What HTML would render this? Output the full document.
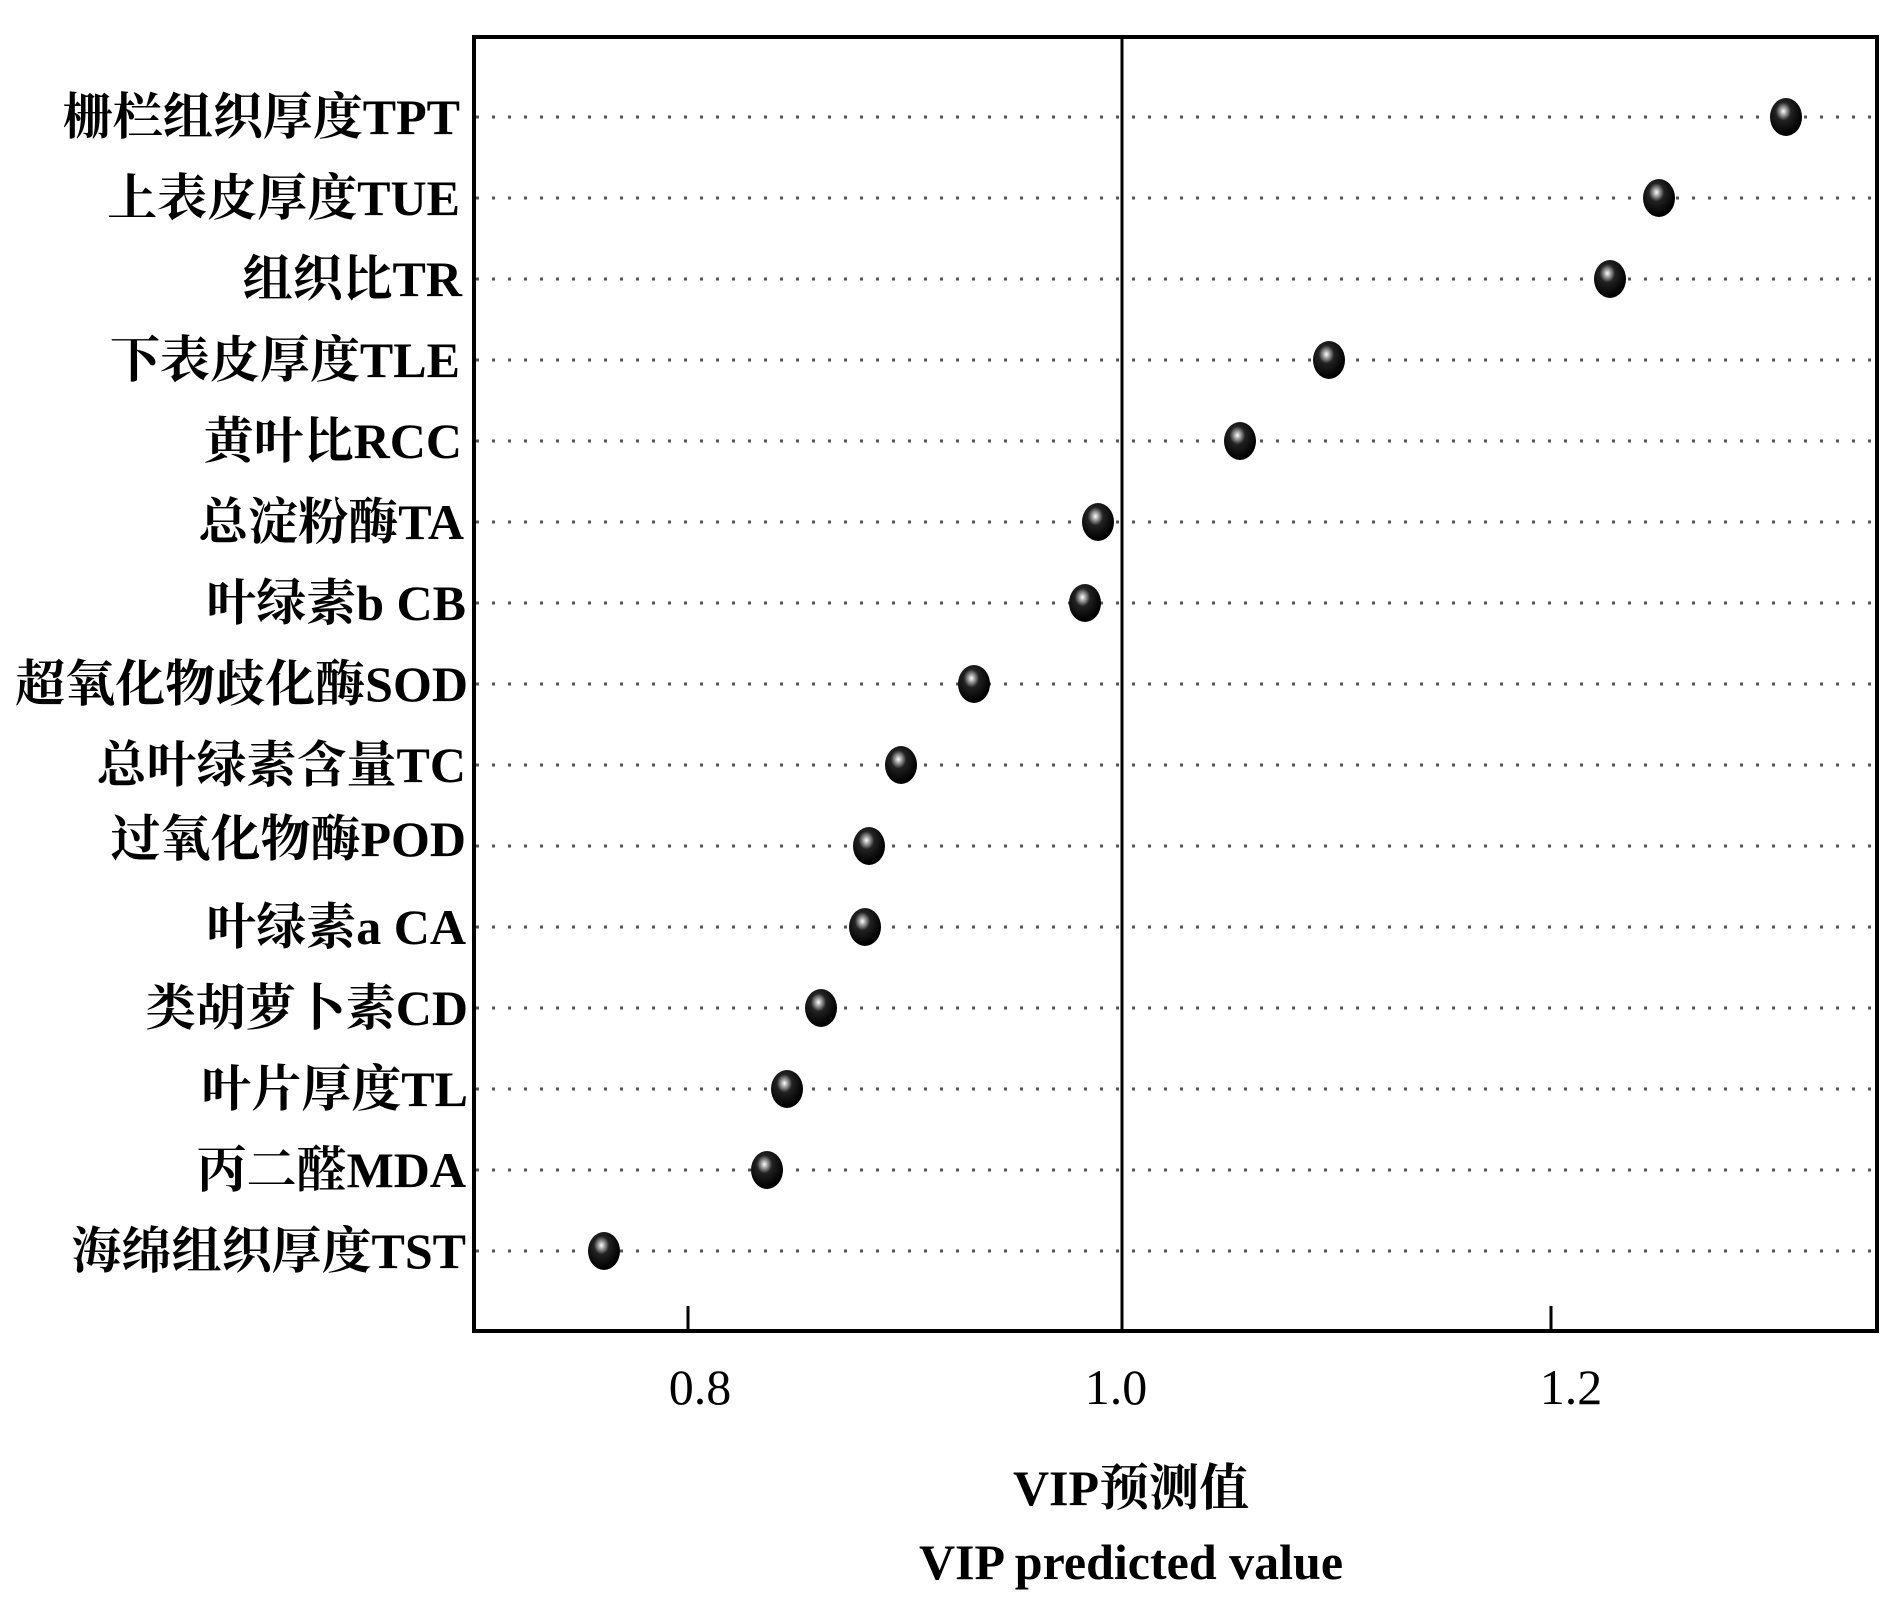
<!DOCTYPE html>
<html><head><meta charset="utf-8"><style>
html,body{margin:0;padding:0;background:#fff;}
svg text{font-family:"Liberation Serif","Noto Serif CJK SC",serif;}
</style></head><body>
<svg width="1890" height="1612" viewBox="0 0 1890 1612" xmlns="http://www.w3.org/2000/svg">
<defs>
<radialGradient id="g" cx="0.42" cy="0.35" r="0.6">
<stop offset="0" stop-color="#fff"/><stop offset="0.15" stop-color="#aaa"/><stop offset="0.4" stop-color="#222"/><stop offset="1" stop-color="#000"/>
</radialGradient>
</defs>
<g stroke="#555" stroke-width="3" stroke-dasharray="3 13">
<line x1="476" x2="1876" y1="117" y2="117"/>
<line x1="476" x2="1876" y1="198" y2="198"/>
<line x1="476" x2="1876" y1="279" y2="279"/>
<line x1="476" x2="1876" y1="360" y2="360"/>
<line x1="476" x2="1876" y1="441" y2="441"/>
<line x1="476" x2="1876" y1="522" y2="522"/>
<line x1="476" x2="1876" y1="603" y2="603"/>
<line x1="476" x2="1876" y1="684" y2="684"/>
<line x1="476" x2="1876" y1="765" y2="765"/>
<line x1="476" x2="1876" y1="846" y2="846"/>
<line x1="476" x2="1876" y1="927" y2="927"/>
<line x1="476" x2="1876" y1="1008" y2="1008"/>
<line x1="476" x2="1876" y1="1089" y2="1089"/>
<line x1="476" x2="1876" y1="1170" y2="1170"/>
<line x1="476" x2="1876" y1="1251" y2="1251"/>
</g>
<line x1="1122" x2="1122" y1="36" y2="1332" stroke="#000" stroke-width="3"/>
<rect x="474" y="37" width="1403" height="1294" fill="none" stroke="#000" stroke-width="4"/>
<g stroke="#000" stroke-width="3">
<line x1="688" x2="688" y1="1306" y2="1331"/>
<line x1="1551" x2="1551" y1="1306" y2="1331"/>
</g>
<g fill="url(#g)">
<ellipse cx="1786" cy="117" rx="16" ry="19"/>
<ellipse cx="1659" cy="198" rx="16" ry="19"/>
<ellipse cx="1610" cy="279" rx="16" ry="19"/>
<ellipse cx="1329" cy="360" rx="16" ry="19"/>
<ellipse cx="1240" cy="441" rx="16" ry="19"/>
<ellipse cx="1098" cy="522" rx="16" ry="19"/>
<ellipse cx="1085" cy="603" rx="16" ry="19"/>
<ellipse cx="974" cy="684" rx="16" ry="19"/>
<ellipse cx="901" cy="765" rx="16" ry="19"/>
<ellipse cx="869" cy="846" rx="16" ry="19"/>
<ellipse cx="865" cy="927" rx="16" ry="19"/>
<ellipse cx="821" cy="1008" rx="16" ry="19"/>
<ellipse cx="787" cy="1089" rx="16" ry="19"/>
<ellipse cx="767" cy="1170" rx="16" ry="19"/>
<ellipse cx="604" cy="1251" rx="16" ry="19"/>
</g>
<g font-size="50" font-weight="bold" text-anchor="end" fill="#000">
<text x="460" y="134">栅栏组织厚度TPT</text>
<text x="460" y="215">上表皮厚度TUE</text>
<text x="462" y="296">组织比TR</text>
<text x="460" y="377">下表皮厚度TLE</text>
<text x="462" y="458">黄叶比RCC</text>
<text x="464" y="539">总淀粉酶TA</text>
<text x="466" y="620">叶绿素b CB</text>
<text x="468" y="701">超氧化物歧化酶SOD</text>
<text x="466" y="782">总叶绿素含量TC</text>
<text x="466" y="856">过氧化物酶POD</text>
<text x="466" y="944">叶绿素a CA</text>
<text x="468" y="1025">类胡萝卜素CD</text>
<text x="468" y="1106">叶片厚度TL</text>
<text x="466" y="1187">丙二醛MDA</text>
<text x="466" y="1268">海绵组织厚度TST</text>
</g>
<g font-size="50" text-anchor="middle" fill="#000">
<text x="700" y="1404">0.8</text>
<text x="1116" y="1404">1.0</text>
<text x="1571" y="1404">1.2</text>
</g>
<g font-size="50" font-weight="bold" text-anchor="middle" fill="#000">
<text x="1131" y="1505">VIP预测值</text>
<text x="1131" y="1579">VIP predicted value</text>
</g>
</svg>
</body></html>
